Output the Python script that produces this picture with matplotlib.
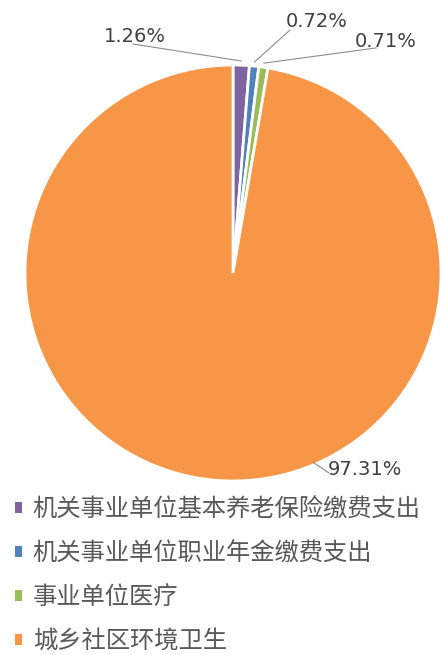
import matplotlib
matplotlib.use("Agg")
import numpy as np
from matplotlib import pyplot as plt

plt.rcParams['font.family'] = ['Noto Sans CJK SC', 'DejaVu Sans']

# data
categories = ["机关事业单位基本养老保险缴费支出", "机关事业单位职业年金缴费支出",
              "事业单位医疗", "城乡社区环境卫生"]
shares = [1.26, 0.72, 0.71, 97.31]
colors = ["#8064A2", "#4F81BD", "#9BBB59", "#F79646"]

# label layout (text centre, leader elbow) in pie units, radius = 1
label_text = [(-0.47, 1.139), (0.404, 1.207), (0.736, 1.111), (0.635, -0.947)]
label_elbow = [(-0.481, 1.101), (0.274, 1.168), (0.688, 1.082), (0.462, -0.962)]

fig = plt.figure(figsize=(4.42, 6.55), dpi=100)
ax = fig.add_axes([25 / 442, (655 - 481) / 655, 416 / 442, 416 / 655])

wedges, _ = ax.pie(shares, colors=colors, startangle=90, counterclock=False,
                   wedgeprops=dict(edgecolor="white", linewidth=2.0))
ax.set_xlim(-1, 1)
ax.set_ylim(-1, 1)

for i, w in enumerate(wedges):
    if i < 3:
        ang = np.deg2rad((w.theta1 + w.theta2) / 2)
        tip = (1.02 * np.cos(ang), 1.02 * np.sin(ang))
    else:
        ang = np.deg2rad(-67)
        tip = (0.99 * np.cos(ang), 0.99 * np.sin(ang))
    ex, ey = label_elbow[i]
    ax.plot([tip[0], ex], [tip[1], ey], color="#8c8c8c", lw=0.8, clip_on=False)
    tx, ty = label_text[i]
    ax.text(tx, ty, f"{shares[i]:.2f}%", ha="center", va="center",
            fontsize=14, color="#404040", family=["DejaVu Sans"])

leg = fig.legend(wedges, categories, loc="upper left",
                 bbox_to_anchor=(0.0, (655 - 482) / 655), frameon=False,
                 prop=dict(size=17.5),
                 handlelength=0.3, handleheight=0.3,
                 handletextpad=0.45, labelspacing=0.74, borderaxespad=0.3,
                 borderpad=0.3)
for t in leg.get_texts():
    t.set_color("#595959")
for h in leg.legend_handles:
    h.set_edgecolor("none")

fig.savefig("out.png", dpi=100)
